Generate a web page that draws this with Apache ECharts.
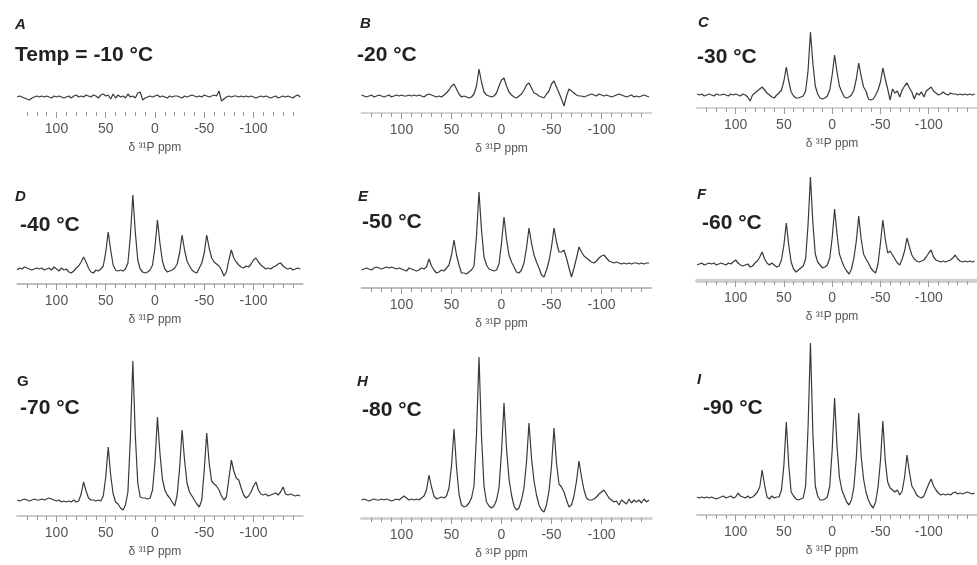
<!DOCTYPE html>
<html><head><meta charset="utf-8">
<script src="https://cdn.jsdelivr.net/npm/echarts@6/dist/echarts.min.js"></script>
<style>html,body{margin:0;padding:0;background:#fff}#c{width:977px;height:565px}</style>
</head><body><div id="c"></div><script>
// chemical shift sampling (ppm)
const ppm = [140,137.5,135,132.5,130,127.5,125,122.5,120,117.5,
115,112.5,110,107.5,105,102.5,100,97.5,95,92.5,
90,87.5,85,82.5,80,77.5,75,72.5,70,67.5,
65,62.5,60,57.5,55,52.5,50,47.5,45,42.5,
40,37.5,35,32.5,30,27.5,25,22.5,20,17.5,
15,12.5,10,7.5,5,2.5,0,-2.5,-5,-7.5,
-10,-12.5,-15,-17.5,-20,-22.5,-25,-27.5,-30,-32.5,
-35,-37.5,-40,-42.5,-45,-47.5,-50,-52.5,-55,-57.5,
-60,-62.5,-65,-67.5,-70,-72.5,-75,-77.5,-80,-82.5,
-85,-87.5,-90,-92.5,-95,-97.5,-100,-102.5,-105,-107.5,
-110,-112.5,-115,-117.5,-120,-122.5,-125,-127.5,-130,-132.5,
-135,-137.5,-140,-142.5,-145,-147.5];

const specA = [0,1,0,-1,-2,-3,-1,0,1,0, 1,0,1,0,-1,1,0,1,0,-1, 0,1,-1,1,2,0,1,0,2,1, 0,2,1,-1,2,3,1,2,-2,3,
 -1,2,0,1,-1,3,0,1,-1,4, 5,-3,-1,0,1,0,1,2,0,1, 0,-1,1,0,1,1,0,-1,1,0, 1,2,1,0,1,0,2,1,0,1,
 2,1,6,-4,-2,0,1,0,1,1, 0,1,0,1,0,1,0,-1,0,1, 0,1,0,-1,0,1,-1,0,1,0, 1,0,-1,1,2,0];
const specB = [1,0,-1,0,1,-1,0,1,0,-1, 0,1,-1,0,1,0,1,0,0,1, 0,1,0,1,0,-1,1,2,1,0, -1,0,-1,1,3,6,10,12,7,2,
 -1,0,-1,-2,-1,2,10,27,14,4, 1,0,-1,0,3,10,16,18,10,4, 1,-1,-2,0,2,6,11,13,8,3, 2,0,-1,-2,2,5,12,15,9,3,
 -3,-10,0,7,5,3,1,0,0,-1, 0,1,2,1,0,2,1,0,1,0, -1,0,1,2,1,0,-1,0,1,-1, 0,-1,0,1,0,-1];
const specC = [1,0,1,-1,0,1,0,-1,1,0, 0,1,0,-1,1,0,1,0,-1,1, 0,-2,-6,0,2,4,6,8,5,2, 0,-2,-3,0,2,5,14,28,14,3,
 -1,-3,-3,-2,-1,4,24,63,32,9, 1,-3,-4,-3,-1,5,20,40,23,9, 3,-2,-3,-2,0,5,16,32,19,8, 4,-4,-5,-4,0,5,13,27,16,6,
 -5,6,2,4,-2,5,9,12,7,3, -4,2,0,3,-2,4,6,8,4,2, 0,1,3,1,0,2,1,1,0,1, 0,1,0,1,0,1];
const specD = [0,2,1,3,2,1,0,1,2,1, 2,0,1,2,0,3,1,-1,2,0, 1,-2,-3,-1,2,4,8,13,8,2, -2,-3,0,-1,1,4,18,38,20,5,
 0,-1,0,-1,1,7,34,75,38,10, 1,-2,-3,-2,0,5,23,50,27,9, 1,-2,-1,0,2,6,17,35,20,9, 4,0,-2,-3,2,7,17,35,22,12,
 8,6,4,0,-6,-2,10,20,12,8, 5,3,2,4,3,6,10,12,8,5, 3,1,2,1,3,4,6,7,4,2, 1,2,0,1,2,1];
const specE = [0,1,2,1,0,2,3,2,1,2, 3,2,3,2,1,2,1,0,-1,2, 1,0,-1,0,2,1,3,11,4,0, -3,-2,0,-1,2,5,15,30,15,5,
 -3,-3,-4,-2,0,4,34,78,40,13, 5,1,0,-1,0,6,27,53,31,15, 8,3,-2,-3,0,7,22,42,27,15, 8,2,-5,-7,0,9,23,42,28,18,
 18,20,12,2,-7,2,12,23,18,14, 12,10,8,7,9,12,14,15,12,9, 8,7,8,7,6,7,6,7,6,7, 7,6,7,6,7,7];
const specF = [0,1,2,0,1,2,1,2,0,1, 2,1,0,2,1,3,5,2,0,-1, 0,1,-2,-1,2,4,8,13,6,2, 0,2,0,-2,-1,5,20,42,20,3,
 -4,-7,-5,-3,-1,6,40,88,42,11, 3,0,-3,-2,0,7,27,56,31,11, 4,-2,-6,-9,-4,7,24,49,26,11, 6,2,-3,-6,-8,1,22,45,26,12,
 14,10,6,2,0,6,14,27,18,10, 6,4,3,4,5,8,12,15,8,5, 4,3,4,3,4,5,7,10,6,4, 3,4,3,4,3,4];
const specG = [0,-1,0,1,0,-1,0,1,0,0, 1,0,1,2,1,0,-1,0,-2,-1, -2,-1,-2,0,-2,-1,6,18,9,2, 0,0,-1,0,-1,4,23,53,25,6,
 -2,-4,-8,-10,-5,8,62,139,65,17, 3,2,2,1,2,10,38,83,47,21, 10,5,2,-2,-6,5,32,70,40,17, 8,4,0,-4,-7,0,30,67,37,19,
 16,14,10,4,0,3,21,40,29,22, 20,12,5,2,4,8,14,18,10,6, 5,6,4,5,6,7,5,8,13,6, 5,6,5,4,5,4];
const specH = [0,1,0,-1,0,1,0,0,1,0, 1,0,-1,0,1,0,2,4,2,0, 1,0,1,0,2,4,10,25,13,4, 1,2,3,2,4,12,34,71,33,6,
 -5,-7,-6,-3,2,14,66,143,64,14, -2,-6,-8,-6,0,12,48,97,52,21, 5,-6,-10,-8,0,12,38,77,42,19, 5,-5,-10,-12,-5,9,34,72,37,16,
 13,8,0,-7,-5,4,19,39,23,10, 2,0,0,1,3,6,8,10,6,2, 0,-2,-1,-5,0,-2,-4,1,-3,0, -2,0,-3,1,-2,0];
const specI = [1,0,1,0,1,0,1,0,-1,0, 1,2,0,1,2,0,1,5,2,1, 0,2,0,1,3,6,11,28,13,1, -1,2,0,1,1,8,33,76,33,6,
 2,-1,-2,-1,0,12,70,155,65,12, 2,-2,-2,-1,1,12,48,100,52,21, 8,2,-4,-7,-2,11,40,85,42,19, 6,-2,-7,-10,-4,11,37,77,37,16,
 10,8,6,8,3,7,21,43,26,12, 8,3,1,0,2,8,14,19,12,8, 5,3,4,3,4,3,5,6,4,5, 4,5,6,5,4,5];

const spectra = [specA, specB, specC, specD, specE, specF, specG, specH, specI];
const panelLetters = ['A','B','C','D','E','F','G','H','I'];
const tempLabels = ['Temp = -10 °C','-20 °C','-30 °C','-40 °C','-50 °C','-60 °C','-70 °C','-80 °C','-90 °C'];
const majorTicks = [100,50,0,-50,-100];
const minorTicks = [130,120,110,100,90,80,70,60,50,40,30,20,10,0,-10,-20,-30,-40,-50,-60,-70,-80,-90,-100,-110,-120,-130,-140];
const axisTitle = 'δ ³¹P ppm';

// layout: zero-ppm x, px per ppm, axis y, baseline y, letter pos, temp pos, axis line style, letter italic
const layout = [
 {x0:155, s:0.985, ay:112, by:97,  lx:15,  ly:25,  tx:15,  ty:55,  lw:0, lc:'#ccc', it:true},
 {x0:501.5, s:1, ay:113, by:96,  lx:360, ly:24,  tx:357, ty:55,  lw:2, lc:'#d4d4d4', it:true},
 {x0:837, s:1, ay:108, by:95,  lx:698, ly:23,  tx:697, ty:57,  lw:2, lc:'#d4d4d4', it:true},
 {x0:155, s:0.985, ay:284, by:270, lx:15,  ly:197, tx:20,  ty:225, lw:1.5, lc:'#aaa', it:true},
 {x0:501.5, s:1, ay:288, by:270, lx:358, ly:197, tx:362, ty:222, lw:1.5, lc:'#aaa', it:true},
 {x0:837, s:1, ay:281, by:265, lx:697, ly:195, tx:702, ty:223, lw:4, lc:'#cfcfcf', it:true},
 {x0:155, s:0.985, ay:516, by:500, lx:17,  ly:382, tx:20,  ty:408, lw:2, lc:'#ccc', it:false},
 {x0:501.5, s:1, ay:518, by:500, lx:357, ly:382, tx:362, ty:410, lw:3, lc:'#d4d4d4', it:true},
 {x0:837, s:1, ay:515, by:498, lx:697, ly:380, tx:703, ty:408, lw:1.5, lc:'#bbb', it:true}
];

const FONT = '"Liberation Sans", Arial, Helvetica, sans-serif';
const grids = [], xAxes = [], yAxes = [], series = [], graphics = [];
layout.forEach((L, i) => {
  const head = Math.min(160, L.by - 2);   // headroom above baseline, 1 unit = 1 px
  const top = L.by - head;
  grids.push({left: L.x0 - 140 * L.s, width: 290 * L.s, top: top, height: L.ay - top, containLabel: false});
  xAxes.push({
    type: 'value', gridIndex: i, min: -150, max: 140, inverse: true, position: 'bottom',
    axisLine: {show: L.lw > 0, onZero: false, lineStyle: {color: L.lc, width: L.lw}},
    axisTick: {show: true, inside: false, customValues: minorTicks, length: 4, lineStyle: {color: '#999', width: 1}},
    axisLabel: {show: false}, splitLine: {show: false}
  });
  xAxes.push({
    type: 'value', gridIndex: i, min: -150, max: 140, inverse: true, position: 'bottom',
    axisLine: {show: false, onZero: false},
    axisTick: {show: true, inside: false, customValues: majorTicks, length: 6, lineStyle: {color: '#999', width: 1}},
    axisLabel: {show: true, customValues: majorTicks, margin: 10, fontSize: 14, color: '#555', fontFamily: FONT},
    splitLine: {show: false},
    name: axisTitle, nameLocation: 'middle', nameGap: 30,
    nameTextStyle: {fontSize: 12, color: '#555', fontFamily: FONT, padding: [0, 10, 0, 0]}
  });
  yAxes.push({type: 'value', gridIndex: i, min: -(L.ay - L.by), max: head, show: false});
  series.push({
    type: 'line', xAxisIndex: 2 * i, yAxisIndex: i, showSymbol: false, silent: true,
    lineStyle: {color: '#3a3a3a', width: 1.2}, clip: false,
    data: ppm.map((p, k) => [p, spectra[i][k]])
  });
  graphics.push({type: 'text', x: L.lx, y: L.ly, style: {text: panelLetters[i],
    font: (L.it ? 'italic ' : '') + 'bold 15px ' + FONT, fill: '#222', verticalAlign: 'middle'}});
  graphics.push({type: 'text', x: L.tx, y: L.ty, style: {text: tempLabels[i],
    font: 'bold 21px ' + FONT, fill: '#222', verticalAlign: 'middle'}});
});

const chart = echarts.init(document.getElementById('c'), null, {renderer: 'canvas'});
chart.setOption({
  animation: false, backgroundColor: '#fff',
  grid: grids, xAxis: xAxes, yAxis: yAxes, series: series, graphic: graphics
});
</script></body></html>
